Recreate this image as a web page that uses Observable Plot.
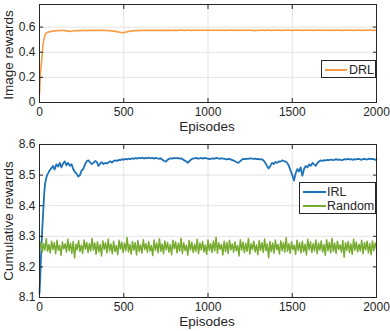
<!DOCTYPE html>
<html><head><meta charset="utf-8">
<script src="https://cdn.jsdelivr.net/npm/d3@7"></script>
<script src="https://cdn.jsdelivr.net/npm/@observablehq/plot@0.6"></script>
<style>
body{margin:0;background:#fff;font-family:"Liberation Sans",Arial,sans-serif;}
#wrap{position:relative;width:390px;height:331px;}
.lg{position:absolute;background:#fff;border:1px solid #262626;font-size:12.5px;color:#262626;box-sizing:border-box;}
.row{position:absolute;left:0;height:14px;line-height:14px;white-space:nowrap;}
.row span.l{position:absolute;top:6px;height:2px;}
.row span.t{position:absolute;}
</style></head>
<body><div id="wrap"></div>
<script>
// ---- data ----
const xTicks = [0, 500, 1000, 1500, 2000];
const topTicks = [0, 0.2, 0.4, 0.6];
const botTicks = [8.1, 8.2, 8.3, 8.4, 8.5, 8.6];
const seriesNames = ["DRL", "IRL", "Random"];

const drlEarlyEp = [0, 3, 6, 10, 14, 18, 22, 26, 30, 35, 40, 50];
const drlEarly = [0.07, 0.15, 0.24, 0.30, 0.34, 0.42, 0.47, 0.50, 0.52, 0.54, 0.553, 0.560];
const drlMain = [ // episodes 60..2000
0.563,0.566,0.568,0.570,0.572,0.573,0.571,0.574,0.573,0.572,
0.570,0.568,0.566,0.567,0.569,0.571,0.572,0.573,0.572,0.574,
0.573,0.574,0.572,0.573,0.575,0.574,0.573,0.575,0.574,0.573,
0.574,0.575,0.574,0.573,0.574,0.572,0.571,0.570,0.568,0.566,
0.564,0.561,0.558,0.555,0.557,0.560,0.563,0.566,0.568,0.570,
0.571,0.572,0.573,0.572,0.574,0.573,0.574,0.575,0.574,0.573,
0.574,0.575,0.574,0.575,0.574,0.573,0.574,0.575,0.574,0.575,
0.574,0.575,0.574,0.573,0.574,0.575,0.574,0.575,0.576,0.575,
0.574,0.575,0.576,0.575,0.574,0.575,0.576,0.575,0.574,0.575,
0.576,0.575,0.574,0.575,0.576,0.575,0.574,0.575,0.576,0.575,
0.574,0.575,0.576,0.575,0.574,0.575,0.576,0.575,0.576,0.575,
0.574,0.575,0.576,0.575,0.576,0.575,0.574,0.575,0.576,0.575,
0.574,0.573,0.572,0.573,0.574,0.575,0.576,0.575,0.574,0.575,
0.576,0.575,0.574,0.575,0.576,0.575,0.576,0.575,0.574,0.575,
0.576,0.575,0.576,0.575,0.574,0.575,0.576,0.575,0.576,0.575,
0.574,0.575,0.576,0.575,0.576,0.575,0.574,0.575,0.576,0.575,
0.576,0.575,0.574,0.575,0.576,0.575,0.576,0.575,0.574,0.575,
0.576,0.575,0.576,0.575,0.574,0.575,0.576,0.575,0.576,0.575,
0.574,0.575,0.576,0.575,0.576,0.575,0.574,0.575,0.576,0.575,
0.576,0.575,0.574,0.575,0.575];

const irlEarlyEp = [0, 4, 8, 12, 16, 20, 24, 28, 32, 36, 40, 45, 50];
const irlEarly = [8.114, 8.16, 8.22, 8.27, 8.32, 8.36, 8.40, 8.44, 8.465, 8.48, 8.49, 8.50, 8.505];
const irlMain = [ // episodes 60..2000
8.515,8.522,8.530,8.518,8.535,8.528,8.540,8.525,8.538,8.545,
8.532,8.540,8.530,8.536,8.520,8.510,8.505,8.495,8.500,8.515,
8.520,8.535,8.545,8.548,8.542,8.536,8.540,8.546,8.543,8.530,
8.538,8.542,8.536,8.540,8.538,8.542,8.545,8.541,8.546,8.548,
8.546,8.550,8.549,8.552,8.550,8.553,8.551,8.554,8.552,8.555,
8.553,8.556,8.554,8.556,8.555,8.557,8.554,8.556,8.555,8.557,
8.555,8.556,8.554,8.556,8.555,8.553,8.555,8.550,8.546,8.544,
8.550,8.553,8.555,8.554,8.556,8.555,8.556,8.554,8.555,8.552,
8.548,8.545,8.540,8.546,8.551,8.554,8.555,8.556,8.554,8.555,
8.556,8.554,8.556,8.555,8.554,8.552,8.554,8.555,8.554,8.556,
8.555,8.553,8.555,8.554,8.553,8.551,8.553,8.552,8.550,8.548,
8.545,8.542,8.540,8.545,8.550,8.553,8.552,8.554,8.553,8.555,
8.554,8.553,8.554,8.552,8.553,8.551,8.552,8.548,8.540,8.530,
8.522,8.530,8.540,8.536,8.543,8.540,8.545,8.544,8.548,8.546,
8.545,8.540,8.530,8.515,8.500,8.482,8.505,8.520,8.512,8.525,
8.498,8.520,8.530,8.525,8.535,8.530,8.540,8.535,8.530,8.540,
8.545,8.548,8.546,8.549,8.548,8.550,8.549,8.551,8.549,8.550,
8.552,8.550,8.551,8.549,8.550,8.552,8.551,8.553,8.551,8.552,
8.550,8.552,8.551,8.553,8.552,8.550,8.552,8.553,8.551,8.552,
8.554,8.552,8.553,8.550,8.551];

const randomVals = [ // episodes 0..2000, every 8
8.262,8.281,8.248,8.276,8.255,8.292,8.251,8.273,8.246,8.284,
8.257,8.279,8.243,8.287,8.254,8.270,8.238,8.281,8.259,8.275,
8.249,8.290,8.253,8.277,8.245,8.283,8.229,8.274,8.256,8.286,
8.250,8.271,8.244,8.288,8.258,8.280,8.247,8.276,8.252,8.293,
8.255,8.278,8.241,8.282,8.249,8.273,8.236,8.285,8.257,8.279,
8.246,8.291,8.252,8.275,8.243,8.284,8.250,8.270,8.240,8.287,
8.258,8.281,8.247,8.277,8.253,8.296,8.249,8.274,8.242,8.283,
8.255,8.279,8.239,8.286,8.251,8.272,8.245,8.289,8.257,8.276,
8.248,8.283,8.252,8.270,8.237,8.288,8.254,8.278,8.246,8.292,
8.251,8.275,8.243,8.285,8.256,8.280,8.248,8.273,8.240,8.287,
8.259,8.282,8.246,8.277,8.252,8.294,8.244,8.279,8.253,8.271,
8.238,8.286,8.255,8.281,8.247,8.274,8.251,8.290,8.243,8.278,
8.256,8.283,8.249,8.272,8.241,8.288,8.254,8.276,8.247,8.285,
8.252,8.297,8.245,8.279,8.258,8.273,8.239,8.284,8.250,8.280,
8.244,8.287,8.256,8.275,8.248,8.282,8.253,8.270,8.236,8.289,
8.255,8.281,8.246,8.277,8.251,8.293,8.242,8.276,8.257,8.284,
8.249,8.272,8.240,8.286,8.254,8.279,8.247,8.291,8.253,8.275,
8.230,8.283,8.250,8.278,8.245,8.288,8.256,8.273,8.242,8.285,
8.253,8.280,8.248,8.295,8.251,8.276,8.244,8.282,8.257,8.271,
8.241,8.287,8.254,8.279,8.246,8.284,8.250,8.274,8.239,8.290,
8.256,8.282,8.247,8.276,8.252,8.288,8.243,8.278,8.255,8.285,
8.249,8.273,8.238,8.289,8.253,8.280,8.246,8.293,8.251,8.277,
8.244,8.284,8.257,8.272,8.248,8.286,8.232,8.279,8.254,8.283,
8.247,8.275,8.241,8.290,8.255,8.281,8.249,8.274,8.252,8.287,
8.243,8.279,8.256,8.284,8.246,8.276,8.240,8.285,8.253,8.278,
8.258];

const colors = {DRL: "#FB9C45", IRL: "#1E73B8", Random: "#77AC30"};

// ---- build tables ----
function spread(vals, e0, e1) {
  const n = vals.length;
  return vals.map((v, i) => ({ep: e0 + i * (e1 - e0) / (n - 1), v}));
}
const drlData = drlEarlyEp.map((e, i) => ({ep: e, v: drlEarly[i]})).concat(spread(drlMain, 60, 2000));
const irlData = irlEarlyEp.map((e, i) => ({ep: e, v: irlEarly[i]})).concat(spread(irlMain, 60, 2000));
const rndData = spread(randomVals, 0, 2000);

const ink = "#262626";
const gridColor = "#e3e3e3";
const plotStyle = {fontFamily: '"Liberation Sans", Arial, sans-serif', fontSize: "12px", color: ink, background: "transparent", overflow: "visible"};

function panel({height, marginTop, yDomain, yTicks, yFormat, lines}) {
  return Plot.plot({
    width: 390, height, marginLeft: 39, marginRight: 14, marginTop, marginBottom: 34,
    style: plotStyle,
    x: {domain: [0, 2000]},
    y: {domain: yDomain},
    marks: [
      Plot.gridX(xTicks, {stroke: gridColor, strokeOpacity: 1}),
      Plot.gridY(yTicks, {stroke: gridColor, strokeOpacity: 1}),
      ...lines,
      Plot.axisX(xTicks, {anchor: "bottom", tickSize: -4, tickPadding: 9, stroke: ink, fill: ink, tickFormat: d => String(d), label: null}),
      Plot.axisX(xTicks, {anchor: "top", tickSize: -4, stroke: ink, tickFormat: () => "", label: null}),
      Plot.axisY(yTicks, {anchor: "left", tickSize: -4, tickPadding: 8, stroke: ink, fill: ink, tickFormat: yFormat, label: null}),
      Plot.axisY(yTicks, {anchor: "right", tickSize: -4, stroke: ink, tickFormat: () => "", label: null}),
      Plot.frame({stroke: ink, strokeWidth: 1})
    ]
  });
}

const wrap = document.getElementById("wrap");
const topPanel = panel({
  height: 136, marginTop: 4, yDomain: [0, 0.78], yTicks: topTicks, yFormat: d => d === 0 ? "0" : d.toFixed(1),
  lines: [Plot.line(drlData, {x: "ep", y: "v", stroke: colors.DRL, strokeWidth: 1.6})]
});
const botPanel = panel({
  height: 195, marginTop: 8, yDomain: [8.1, 8.6], yTicks: botTicks, yFormat: d => d.toFixed(1),
  lines: [
    Plot.line(irlData, {x: "ep", y: "v", stroke: colors.IRL, strokeWidth: 1.8}),
    Plot.line(rndData, {x: "ep", y: "v", stroke: colors.Random, strokeWidth: 1.5})
  ]
});
topPanel.style.display = "block"; botPanel.style.display = "block";
wrap.appendChild(topPanel); wrap.appendChild(botPanel);

// axis titles
function title(text, cx, cy, rot) {
  const d = document.createElement("div");
  d.textContent = text;
  d.style.cssText = `position:absolute;left:${cx}px;top:${cy}px;transform:translate(-50%,-50%)${rot ? " rotate(-90deg)" : ""};font-size:13.5px;color:${ink};white-space:nowrap;line-height:1;`;
  wrap.appendChild(d);
}
title("Image rewards", 9, 55, true);
title("Cumulative rewards", 9, 221, true);
title("Episodes", 207, 127, false);
title("Episodes", 207, 322, false);

// legends
function legend(names, left, topPx, w, h, rowTops, lineX, lineW, textX) {
  const box = document.createElement("div");
  box.className = "lg";
  box.style.cssText += `left:${left}px;top:${topPx}px;width:${w}px;height:${h}px;`;
  names.forEach((n, i) => {
    const r = document.createElement("div");
    r.className = "row";
    r.style.top = rowTops[i] + "px";
    r.style.width = w + "px";
    r.innerHTML = `<span class="l" style="left:${lineX}px;width:${lineW}px;background:${colors[n]}"></span><span class="t" style="left:${textX}px">${n}</span>`;
    box.appendChild(r);
  });
  wrap.appendChild(box);
}
legend([seriesNames[0]], 321, 60, 55, 18, [1.5], 3, 22, 27);
legend([seriesNames[1], seriesNames[2]], 299, 182, 77, 32, [1.5, 16], 3, 23, 27);
</script></body></html>
